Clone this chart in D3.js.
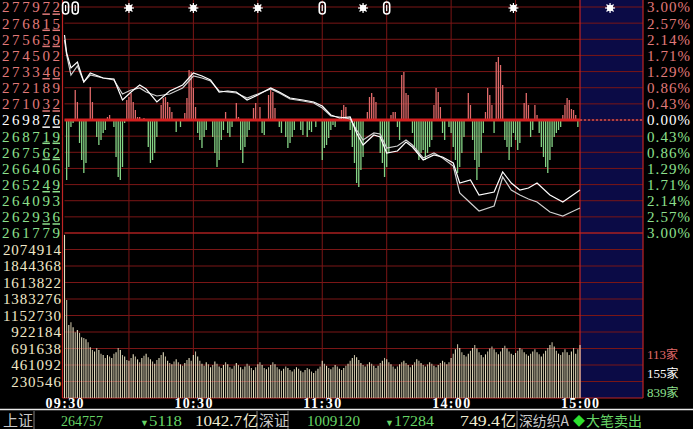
<!DOCTYPE html>
<html>
<head>
<meta charset="utf-8">
<script src="https://cdn.jsdelivr.net/npm/d3@7"></script>
<style>
body { margin: 0; background: #000; }
svg { display: block; }
</style>
</head>
<body>
<script>
var width = 693, height = 429;
var prevClose = 269876;

// left price ticks, right percent ticks
var priceLabels = ["277972","276815","275659","274502","273346","272189","271032","269876","268719","267562","266406","265249","264093","262936","261779"];
var priceUnder  = [1,1,1,0,1,0,1,1,1,1,0,1,0,1,0];
var pctLabels   = ["3.00%","2.57%","2.14%","1.71%","1.29%","0.86%","0.43%","0.00%","0.43%","0.86%","1.29%","1.71%","2.14%","2.57%","3.00%"];
var volLabels   = ["2074914","1844368","1613822","1383276","1152730","922184","691638","461092","230546"];
var timeMin     = [0, 60, 120, 180, 240];
var timeLabels  = ["09:30","10:30","11:30","14:00","15:00"];

// index lines (minutes after 09:30)
var lineMin  = [0,1,3,6,9,12,18,23,27,31,35,38,43,49,55,60,64,68,72,76,80,85,90,96,100,105,111,116,120,124,128,133,136,139,144,147,150,155,159,162,167,172,176,181,184,189,193,200,204,208,212,216,220,226,232,236,240];
var priceVal = [275966,274676,273602,274032,272599,273244,272885,272814,271309,271882,272384,272097,271166,271954,272384,273244,273029,272742,271882,271954,271882,271309,271667,272169,271882,271452,271309,271166,270879,270234,270019,270091,268945,268085,268801,268658,267512,267655,268300,267941,267010,267368,267225,266795,265362,265577,264502,264717,266150,265362,264860,265004,265362,264502,264001,264431,264860];
var avgVal   = [275608,274533,273100,273745,272599,273100,272885,272742,271739,272026,272169,271882,271596,271739,272169,273029,272885,272670,271954,271882,271811,271452,271739,272097,271811,271381,271237,271094,270736,270163,270091,269948,269160,268443,268945,268873,267870,268013,268443,268085,267153,267512,267153,266580,264646,263929,263356,263714,265792,264860,264502,264216,264001,263284,262998,263284,263571];

// buy / sell strength bars
var redMin = [5,6,12,13,20,21,29,30,31,32,33,34,35,37,45,46,47,48,49,50,56,57,58,59,60,61,75,80,81,88,89,91,95,96,97,98,129,130,131,141,142,143,144,145,152,153,154,157,158,159,160,172,173,174,175,188,189,196,197,198,199,201,202,203,204,214,215,216,219,220,232,233,234,235,236,237,238];
var redVal = [30,18,33,18,3,5,20,23,27,18,10,3,3,2,15,22,23,18,13,8,7,22,50,48,32,13,8,17,3,12,17,13,25,30,28,12,10,15,13,8,23,27,23,18,5,8,8,45,48,27,25,15,32,28,13,27,15,8,32,25,15,58,63,55,35,17,27,15,15,5,5,15,22,20,11,10,5];
var greenMin = [1,2,3,4,7,8,9,10,15,16,17,18,19,23,24,25,26,27,28,39,40,41,42,43,52,54,62,63,64,65,66,69,70,71,72,73,74,76,77,78,82,83,84,85,86,92,93,100,101,103,104,105,106,107,110,111,113,114,115,117,120,121,122,123,124,125,126,133,134,135,136,137,138,139,147,148,149,150,151,155,156,162,163,164,165,166,167,168,169,170,171,176,177,179,180,181,182,183,184,185,186,190,191,192,193,194,195,200,205,206,207,208,209,210,211,212,217,218,221,222,223,224,225,226,227,228,229,230,231,239];
var greenVal = [60,47,7,3,23,40,53,43,17,25,20,13,10,7,37,57,60,47,3,27,43,40,33,17,12,7,13,20,28,17,10,17,33,47,40,20,10,13,17,7,30,43,27,17,10,13,15,7,13,17,28,23,17,10,10,15,17,10,12,7,40,28,25,18,10,5,7,10,27,43,63,67,50,37,33,43,57,47,33,7,20,13,27,33,40,33,30,40,33,27,20,13,20,7,13,27,40,53,47,33,17,20,40,60,47,33,13,13,20,27,40,27,13,20,30,23,17,10,13,27,37,47,53,40,27,17,13,10,7,7];

// volume per minute, thousands
var volK = [2280,1370,1020,1060,990,920,950,910,850,840,820,780,710,670,650,700,670,620,600,560,600,580,560,620,640,700,670,600,580,530,
  520,560,610,580,540,500,560,590,620,570,540,510,480,530,560,600,640,580,520,490,470,510,540,500,470,450,490,530,560,520,
  600,650,580,520,480,450,500,470,430,460,510,480,440,420,460,500,470,430,410,450,490,460,430,400,440,480,450,420,390,430,
  470,500,460,420,400,430,460,500,470,430,400,380,410,440,420,390,370,400,430,410,380,360,390,420,400,370,350,380,410,440,
  520,480,450,420,400,430,460,440,410,390,420,450,480,520,560,600,570,530,490,460,440,470,500,480,450,420,450,490,520,560,
  540,500,470,440,410,440,470,500,520,490,460,430,460,500,540,520,490,460,440,470,500,480,450,430,460,490,520,500,470,500,
  560,620,680,750,700,640,600,580,620,660,700,740,690,640,600,570,610,650,690,720,680,640,610,650,700,730,690,650,620,600,
  630,660,700,680,640,610,590,620,650,680,640,610,580,620,660,700,740,780,720,660,620,600,640,680,640,600,650,700,620,680,740];

// event markers on the top line
var iconMin  = [0.5, 5, 30, 60, 90, 120, 139, 150, 209, 254];
var iconType = ["tall","tall","gear","gear","gear","tall","gear","tall","gear","gear"];

var svg = d3.select("body").append("svg")
    .attr("width", width)
    .attr("height", height)
    .style("background", "#000");

var x = d3.scaleLinear().domain([0, 240]).range([64.5, 580]);
var y = d3.scaleLinear().domain([prevClose * 0.97, prevClose * 1.03]).range([233, 7]);
var yFlow = d3.scaleLinear().domain([-113, 113]).range([233, 7]);
var yVol = d3.scaleLinear().domain([0, 2305.46]).range([398, 233]);

var gridCol = "#7a1616";
var brightRed = "#c02424";
var serif = "'Liberation Serif', serif";
var cjk = "'Noto Sans CJK SC', sans-serif";

// blue future area
svg.append("rect")
    .attr("x", x(240)).attr("y", 0)
    .attr("width", 643 - x(240)).attr("height", yVol(0))
    .attr("fill", "#0b0b46");

// price grid
svg.selectAll(".hg").data(priceLabels).enter().append("line")
    .attr("x1", x(0)).attr("x2", 643)
    .attr("y1", function(d) { return y(+d); })
    .attr("y2", function(d) { return y(+d); })
    .attr("stroke", gridCol).attr("stroke-width", 1);

// volume grid
svg.selectAll(".vg").data(volLabels).enter().append("line")
    .attr("x1", x(0)).attr("x2", 643)
    .attr("y1", function(d) { return yVol(+d / 1000); })
    .attr("y2", function(d) { return yVol(+d / 1000); })
    .attr("stroke", gridCol).attr("stroke-width", 1);

// vertical grid
var gridMin = [30, 60, 90, 120, 150, 180, 210];
svg.selectAll(".xg").data(gridMin).enter().append("line")
    .attr("x1", function(d) { return x(d); })
    .attr("x2", function(d) { return x(d); })
    .attr("y1", 0).attr("y2", yVol(0))
    .attr("stroke", gridCol).attr("stroke-width", 1);

// borders
[[62.5, 0, 62.5, yVol(0)], [x(240), 0, x(240), yVol(0)], [643, 0, 643, yVol(0)],
 [x(0), y(prevClose * 0.97), 643, y(prevClose * 0.97)], [62.5, yVol(0), 643, yVol(0)]].forEach(function(s) {
  svg.append("line")
      .attr("x1", s[0]).attr("y1", s[1]).attr("x2", s[2]).attr("y2", s[3])
      .attr("stroke", brightRed).attr("stroke-width", 1.2);
});

// volume bars
svg.append("g").selectAll("line").data(volK).enter().append("line")
    .attr("x1", function(d, i) { return x(i); })
    .attr("x2", function(d, i) { return x(i); })
    .attr("y1", yVol(0))
    .attr("y2", function(d) { return yVol(d); })
    .attr("stroke", function(d, i) { return i % 2 ? "#bdb59a" : "#e6dfbf"; })
    .attr("stroke-width", 1.1);

// strength bars
svg.append("g").selectAll("line").data(redMin).enter().append("line")
    .attr("x1", function(d) { return x(d); })
    .attr("x2", function(d) { return x(d); })
    .attr("y1", yFlow(0))
    .attr("y2", function(d, i) { return yFlow(redVal[i]); })
    .attr("stroke", "#e06a6a").attr("stroke-width", 1.3);

svg.append("g").selectAll("line").data(greenMin).enter().append("line")
    .attr("x1", function(d) { return x(d); })
    .attr("x2", function(d) { return x(d); })
    .attr("y1", yFlow(0))
    .attr("y2", function(d, i) { return yFlow(-greenVal[i]); })
    .attr("stroke", "#86d486").attr("stroke-width", 1.3);

// zero line
svg.append("line")
    .attr("x1", x(0)).attr("x2", x(240))
    .attr("y1", y(prevClose)).attr("y2", y(prevClose))
    .attr("stroke", "#d42020").attr("stroke-width", 3);
svg.append("line")
    .attr("x1", x(240)).attr("x2", 643)
    .attr("y1", y(prevClose)).attr("y2", y(prevClose))
    .attr("stroke", "#d05050").attr("stroke-width", 1.5)
    .attr("stroke-dasharray", "2,2");

// index lines
var line = d3.line()
    .curve(d3.curveLinear)
    .x(function(d) { return x(d[0]); })
    .y(function(d) { return y(d[1]); });

svg.append("path")
    .datum(lineMin.map(function(t, i) { return [t, avgVal[i]]; }))
    .attr("d", line)
    .attr("fill", "none").attr("stroke", "#cfcfcf").attr("stroke-width", 1.2);

svg.append("path")
    .datum(lineMin.map(function(t, i) { return [t, priceVal[i]]; }))
    .attr("d", line)
    .attr("fill", "none").attr("stroke", "#ffffff").attr("stroke-width", 1.2);

// left price labels
function priceColor(i) { return i < 7 ? "#e07a7a" : (i === 7 ? "#ffffff" : "#8ee08e"); }

var pl = svg.append("g").selectAll("text").data(priceLabels).enter().append("text")
    .attr("x", 2)
    .attr("y", function(d) { return y(+d); })
    .attr("dy", "0.36em")
    .attr("font-family", serif).attr("font-size", 15)
    .attr("textLength", 58).attr("lengthAdjust", "spacing")
    .attr("fill", function(d, i) { return priceColor(i); });
pl.append("tspan").text(function(d) { return d.slice(0, 4); });
pl.append("tspan")
    .style("text-decoration", function(d, i) { return priceUnder[i] ? "underline" : "none"; })
    .text(function(d) { return d.slice(4); });

// volume labels
svg.append("g").selectAll("text").data(volLabels).enter().append("text")
    .attr("x", 61).attr("text-anchor", "end")
    .attr("y", function(d) { return yVol(+d / 1000); })
    .attr("dy", "0.36em")
    .attr("font-family", serif).attr("font-size", 15)
    .attr("textLength", function(d) { return d.length * 8.3; }).attr("lengthAdjust", "spacing")
    .attr("fill", "#f0e8c8")
    .text(function(d) { return d; });

// right percent labels
svg.append("g").selectAll("text").data(pctLabels).enter().append("text")
    .attr("x", 647)
    .attr("y", function(d, i) { return y(+priceLabels[i]); })
    .attr("dy", "0.36em")
    .attr("font-family", serif).attr("font-size", 15)
    .attr("textLength", 43).attr("lengthAdjust", "spacing")
    .attr("fill", function(d, i) { return priceColor(i); })
    .text(function(d) { return d; });

// up / flat / down counts
var countLabels = ["113", "155", "839"];
var countColors = ["#e06a6a", "#ffffff", "#8ee08e"];
var countY = [355, 374, 393];
countLabels.forEach(function(c, i) {
  var t = svg.append("text")
      .attr("x", 647).attr("y", countY[i]).attr("dy", "0.34em")
      .attr("fill", countColors[i]).attr("font-size", 13);
  t.append("tspan").attr("font-family", serif).text(c);
  t.append("tspan").attr("font-family", cjk).attr("font-size", 12).text("家");
});

// time labels
svg.append("g").selectAll("text").data(timeLabels).enter().append("text")
    .attr("x", function(d, i) { return x(timeMin[i]) - 19; })
    .attr("y", 408)
    .attr("font-family", serif).attr("font-size", 14).attr("font-weight", "bold")
    .attr("textLength", 38).attr("lengthAdjust", "spacing")
    .attr("fill", "#ffffff")
    .text(function(d) { return d; });

// status bar
svg.append("line").attr("x1", 0).attr("x2", width).attr("y1", 409.5).attr("y2", 409.5)
    .attr("stroke", "#e8e8e8").attr("stroke-width", 1.5);
[34, 257, 288, 517].forEach(function(sx) {
  svg.append("line").attr("x1", sx).attr("x2", sx).attr("y1", 411).attr("y2", 429)
      .attr("stroke", "#808080").attr("stroke-width", 1);
});

function status(txt, sx, col, fam, size, len) {
  var t = svg.append("text").attr("x", sx).attr("y", 426)
      .attr("font-family", fam).attr("font-size", size).attr("fill", col).text(txt);
  if (len) t.attr("textLength", len).attr("lengthAdjust", "spacingAndGlyphs");
  return t;
}
status("上证", 3, "#c8c8c8", cjk, 15);
status("264757", 61, "#66d466", serif, 15, 42);
status("▼", 140, "#66d466", serif, 9);
status("5118", 149, "#66d466", serif, 15, 33);
status("1042.7", 195, "#f0ecd0", serif, 15, 47);
status("亿", 243, "#f0ecd0", cjk, 15);
status("深证", 259, "#c8c8c8", cjk, 15);
status("1009120", 307, "#66d466", serif, 15, 53);
status("▼", 385, "#66d466", serif, 9);
status("17284", 394, "#66d466", serif, 15, 40);
status("749.4", 460, "#f0ecd0", serif, 15, 40);
status("亿", 501, "#f0ecd0", cjk, 15);
status("深纺织A", 519, "#c8c8c8", cjk, 14, 50);
status("◆", 573, "#2ee02e", cjk, 12);
status("大笔卖出", 586, "#66d466", cjk, 14, 56);

// event markers
var icons = svg.append("g").selectAll("g").data(iconMin).enter().append("g")
    .attr("transform", function(d) { return "translate(" + x(d) + ",8)"; });
icons.each(function(d, i) {
  var g = d3.select(this);
  if (iconType[i] === "gear") {
    g.append("circle").attr("r", 3.2).attr("fill", "#ffffff");
    g.append("circle").attr("r", 1.2).attr("fill", "#666");
    [0, 45, 90, 135].forEach(function(a) {
      g.append("line").attr("x1", -5).attr("x2", 5).attr("y1", 0).attr("y2", 0)
          .attr("transform", "rotate(" + a + ")")
          .attr("stroke", "#ffffff").attr("stroke-width", 1.2);
    });
  } else {
    g.append("rect").attr("x", -3).attr("y", -6).attr("width", 6).attr("height", 12)
        .attr("rx", 3).attr("fill", "none").attr("stroke", "#ffffff").attr("stroke-width", 1.6);
    g.append("line").attr("x1", 0).attr("x2", 0).attr("y1", -3).attr("y2", 3)
        .attr("stroke", "#ffffff").attr("stroke-width", 1.2);
  }
});
</script>
</body>
</html>
